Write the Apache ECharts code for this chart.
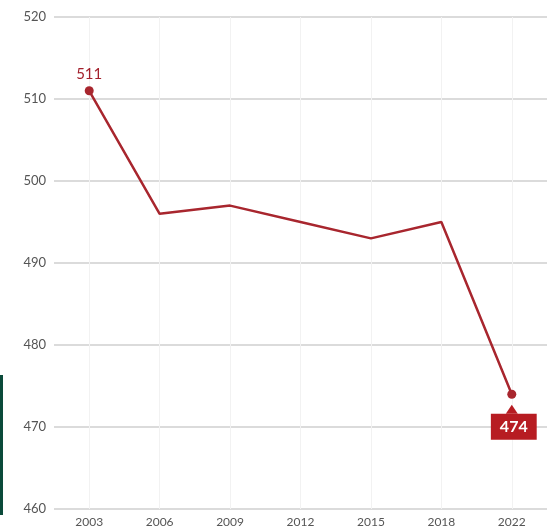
<!DOCTYPE html>
<html>
<head>
<meta charset="utf-8">
<script src="https://cdn.jsdelivr.net/npm/echarts@6/dist/echarts.min.js"></script>
<style>html,body{margin:0;padding:0;background:#fff}#c{width:547px;height:530px}</style>
</head>
<body>
<div id="c"></div>
<script>
const years = ['2003', '2006', '2009', '2012', '2015', '2018', '2022'];
const scores = [511, 496, 497, 495, 493, 495, 474];
const yTicks = [460, 470, 480, 490, 500, 510, 520];

const RED = '#a8262e';
const chart = echarts.init(document.getElementById('c'));
const lastIdx = scores.length - 1;
const seriesData = scores.map((v, i) => {
  const item = { value: v, symbol: 'none' };
  if (i === 0) {
    item.symbol = 'circle';
    item.label = { show: true, position: 'top', distance: 5, color: '#a3202c', fontSize: 15, fontFamily: 'Lato', fontWeight: 'normal' };
  }
  if (i === lastIdx) {
    item.symbol = 'circle';
    item.label = { show: true, position: 'bottom', distance: 15, color: '#fff', fontSize: 16, fontWeight: 'bold', fontFamily: 'Lato',
      backgroundColor: '#b71c22', padding: [5, 9, 5, 9], offset: [2, 0] };
  }
  return item;
});

chart.setOption({
  animation: false,
  backgroundColor: '#fff',
  grid: { left: 54, top: 17, width: 497, bottom: 21, containLabel: false },
  xAxis: {
    type: 'category',
    data: years,
    boundaryGap: true,
    axisLine: { show: false },
    axisTick: { show: false, alignWithLabel: true },
    axisLabel: { color: '#555', fontSize: 12, fontFamily: 'Lato', margin: 7 },
    splitLine: { show: true, alignWithLabel: true, lineStyle: { color: '#f2f2f2', width: 1 } }
  },
  yAxis: {
    type: 'value',
    min: yTicks[0],
    max: yTicks[yTicks.length - 1],
    interval: 10,
    axisLine: { show: false },
    axisTick: { show: false },
    axisLabel: { color: '#555', fontSize: 13, fontFamily: 'Lato', margin: 8 },
    splitLine: { lineStyle: { color: '#cfcfcf', width: 1.5 } }
  },
  graphic: [
    { type: 'rect', left: 0, top: 375, shape: { width: 3, height: 140 }, style: { fill: '#0b4a3a' } }
  ],
  series: [{
    type: 'line',
    data: seriesData,
    symbolSize: 9,
    lineStyle: { color: RED, width: 2.5 },
    itemStyle: { color: RED },
    markPoint: {
      symbol: 'triangle',
      symbolSize: [12, 9],
      symbolOffset: [0, 15],
      label: { show: false },
      itemStyle: { color: '#b71c22' },
      data: [{ coord: [years[lastIdx], scores[lastIdx]] }]
    }
  }]
});
</script>
</body>
</html>
